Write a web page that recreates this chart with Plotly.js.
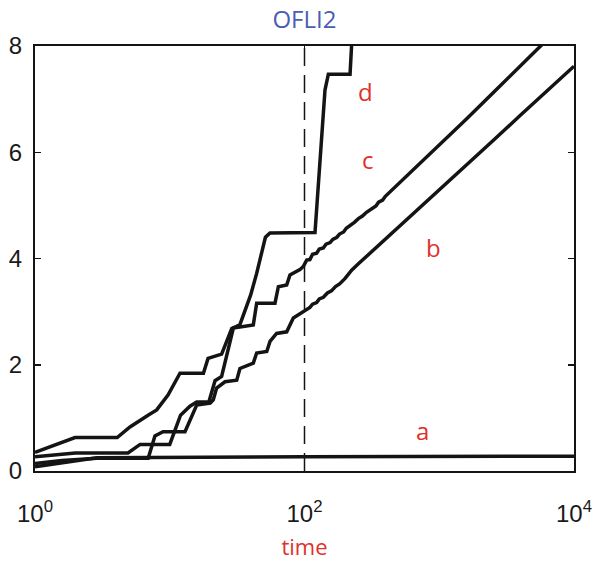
<!DOCTYPE html>
<html>
<head>
<meta charset="utf-8">
<script src="https://cdn.plot.ly/plotly-3.0.1.min.js"></script>
<style>html,body{margin:0;padding:0;background:#fff;}#chart{width:597px;height:562px;}</style>
</head>
<body>
<div id="chart"></div>
<script>
// log10(time) and OFLI2 values
const aLogT = [0, 0.2, 0.46, 2.0, 4.0];
const aVal  = [0.08, 0.15, 0.25, 0.27, 0.28];

const bLogT = [0, 0.2, 0.46, 0.84, 0.89, 0.95, 1.113, 1.20, 1.30, 1.323, 1.348, 1.41, 1.497, 1.521, 1.62, 1.645, 1.72, 1.744, 1.793, 1.868, 1.917, 1.991,
  2.01, 2.04, 2.06, 2.09, 2.11, 2.14, 2.17, 2.20, 2.23, 2.26, 2.30, 2.35, 2.40, 2.50, 2.60, 2.80, 3.00, 3.20, 3.40, 3.60, 3.80, 4.00];
const bVal  = [0.14, 0.20, 0.24, 0.24, 0.66, 0.74, 0.74, 1.24, 1.28, 1.34, 1.56, 1.68, 1.71, 1.93, 2.03, 2.22, 2.25, 2.44, 2.59, 2.62, 2.88, 3.00,
  3.05, 3.08, 3.14, 3.17, 3.24, 3.27, 3.35, 3.39, 3.47, 3.52, 3.62, 3.78, 3.90, 4.13, 4.36, 4.82, 5.28, 5.74, 6.22, 6.69, 7.15, 7.62];

const cLogT = [0, 0.30, 0.69, 0.78, 1.0, 1.08, 1.15, 1.20, 1.29, 1.336, 1.385, 1.435, 1.472, 1.62, 1.645, 1.781, 1.806, 1.868, 1.892, 1.966, 1.991, 2.016,
  2.04, 2.06, 2.09, 2.11, 2.14, 2.16, 2.19, 2.21, 2.24, 2.26, 2.29, 2.31, 2.34, 2.37, 2.40, 2.43, 2.46, 2.50, 2.53, 2.55, 2.58, 2.60, 2.65, 2.70, 2.80, 2.90, 3.00, 3.20, 3.40, 3.60, 3.76, 3.80];
const cVal  = [0.27, 0.34, 0.34, 0.50, 0.50, 1.05, 1.22, 1.30, 1.30, 1.70, 1.78, 2.34, 2.69, 2.75, 3.16, 3.16, 3.47, 3.50, 3.69, 3.79, 3.85, 3.97,
  3.98, 4.08, 4.10, 4.18, 4.20, 4.27, 4.30, 4.36, 4.40, 4.46, 4.50, 4.57, 4.62, 4.68, 4.75, 4.80, 4.87, 4.94, 4.99, 5.06, 5.10, 5.17, 5.29, 5.41, 5.64, 5.88, 6.12, 6.62, 7.12, 7.62, 8.02, 8.12];

const dLogT = [0, 0.297, 0.61, 0.705, 0.839, 0.903, 0.987, 1.076, 1.25, 1.284, 1.385, 1.46, 1.52, 1.56, 1.60, 1.645, 1.683, 1.71, 1.744, 2.065, 2.078, 2.152, 2.165, 2.177, 2.338, 2.350, 2.36];
const dVal  = [0.35, 0.63, 0.63, 0.83, 1.05, 1.15, 1.43, 1.84, 1.84, 2.12, 2.20, 2.68, 2.75, 3.03, 3.31, 3.72, 4.16, 4.40, 4.48, 4.48, 4.49, 7.17, 7.30, 7.47, 7.47, 8.0, 8.5];

const markerTime = [100, 100];
const markerVal = [0, 8];

const curveLabels = ['a', 'b', 'c', 'd'];
const labelLogT = [2.872, 2.954, 2.472, 2.456];
const labelVal = [0.77, 4.20, 5.86, 7.14];

const xTickVals = [1, 100, 10000];
const xTickText = ['10<sup>0</sup>', '10<sup>2</sup>', '10<sup>4</sup>'];
const yTickVals = [0, 2, 4, 6, 8];

const toT = arr => arr.map(v => Math.pow(10, v));
const lineStyle = {color: '#141414', width: 3.5};

const traces = [
  {x: markerTime, y: markerVal, mode: 'lines', line: {color: '#141414', width: 1.5, dash: '18px,9px'}},
  {x: toT(aLogT), y: aVal, mode: 'lines', line: lineStyle},
  {x: toT(bLogT), y: bVal, mode: 'lines', line: lineStyle},
  {x: toT(cLogT), y: cVal, mode: 'lines', line: lineStyle},
  {x: toT(dLogT), y: dVal, mode: 'lines', line: lineStyle}
];

const annotations = curveLabels.map((t, i) => ({
  x: labelLogT[i], y: labelVal[i], xref: 'x', yref: 'y', text: t, showarrow: false,
  font: {family: 'Open Sans, Liberation Sans, sans-serif', size: 24, color: '#e0302a'}
}));

const layout = {
  width: 597, height: 562,
  margin: {l: 35, r: 23, t: 46, b: 91},
  paper_bgcolor: '#fff', plot_bgcolor: '#fff',
  showlegend: false,
  title: {text: 'OFLI2', x: 0.51, xanchor: 'center', y: 0.965, yanchor: 'middle',
    font: {family: 'Open Sans, Liberation Sans, sans-serif', size: 24, color: '#4a5db4'}},
  xaxis: {
    type: 'log', range: [0, 4], tickvals: xTickVals, ticktext: xTickText,
    ticks: 'inside', ticklen: 6, tickwidth: 1.5, tickcolor: '#141414',
    showline: true, linecolor: '#141414', linewidth: 2, mirror: 'ticks',
    showgrid: false, zeroline: false,
    tickfont: {family: 'Liberation Sans, Arial, sans-serif', size: 24, color: '#1a1a1a'},
    ticklabelstandoff: 20,
    title: {text: 'time', standoff: 14, font: {family: 'Open Sans, Liberation Sans, sans-serif', size: 22, color: '#e0302a'}}
  },
  yaxis: {
    range: [0, 8], tickvals: yTickVals,
    ticks: 'inside', ticklen: 6, tickwidth: 1.5, tickcolor: '#141414',
    showline: true, linecolor: '#141414', linewidth: 2, mirror: 'ticks',
    showgrid: false, zeroline: false,
    tickfont: {family: 'Liberation Sans, Arial, sans-serif', size: 24, color: '#1a1a1a'},
    ticklabelstandoff: 6
  },
  annotations: annotations
};

Plotly.newPlot('chart', traces, layout, {displayModeBar: false, staticPlot: true});
</script>
</body>
</html>
